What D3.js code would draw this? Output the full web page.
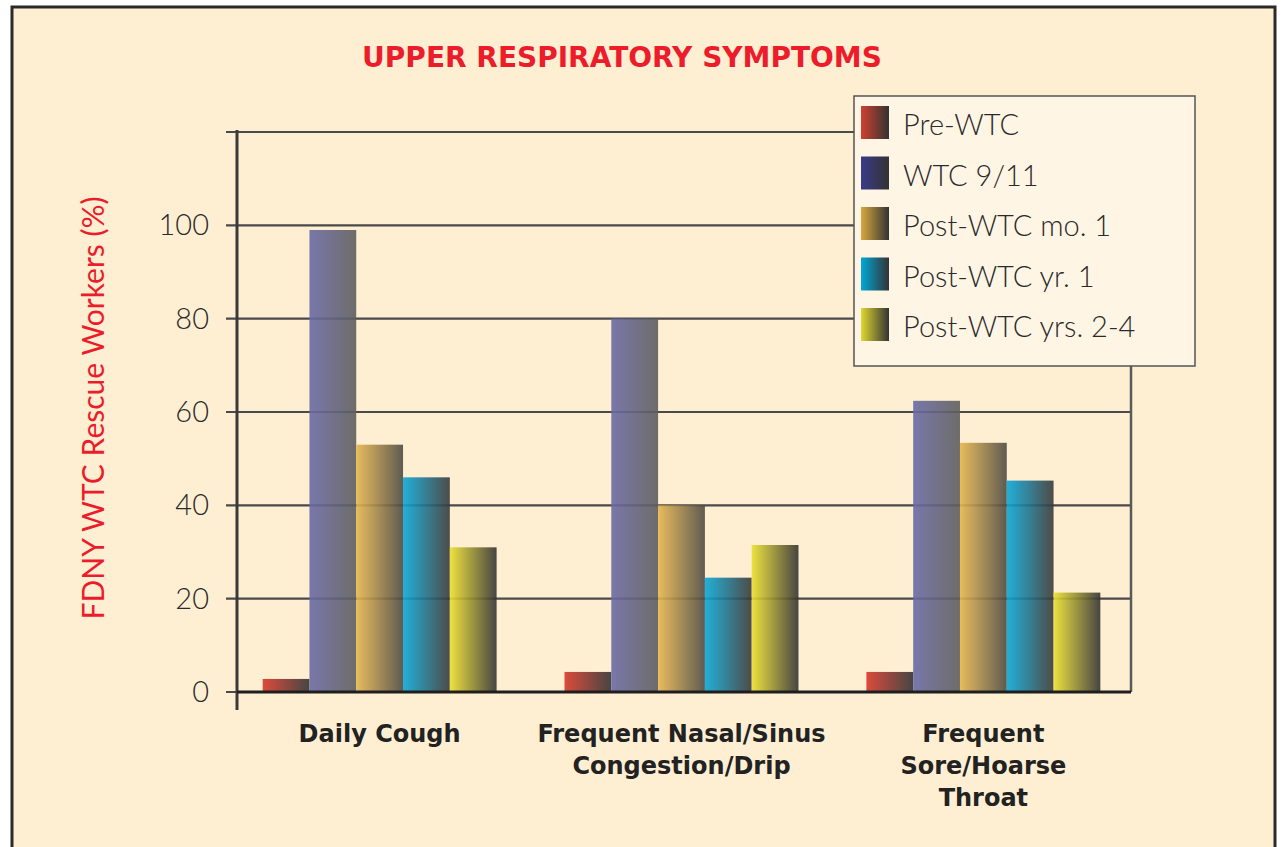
<!DOCTYPE html>
<html>
<head>
<meta charset="utf-8">
<script src="https://cdn.jsdelivr.net/npm/d3@7"></script>
<style>
	body { margin: 0; background: #ffffff; }
	svg { display: block; }
</style>
</head>
<body>
<svg id="chart" width="1282" height="847"></svg>
<script>
var categories = [["Daily Cough"], ["Frequent Nasal/Sinus", "Congestion/Drip"], ["Frequent", "Sore/Hoarse", "Throat"]];
var seriesNames = ["Pre-WTC", "WTC 9/11", "Post-WTC mo. 1", "Post-WTC yr. 1", "Post-WTC yrs. 2-4"];
var preWTC = [2.8, 4.3, 4.3];
var wtc911 = [99, 80, 62.4];
var postMo1 = [53, 40, 53.4];
var postYr1 = [46, 24.5, 45.3];
var postYrs24 = [31, 31.5, 21.3];
var yTicks = [0, 20, 40, 60, 80, 100];
var series = [preWTC, wtc911, postMo1, postYr1, postYrs24];
var barStart = ["#d8392a", "#6a6aa6", "#e6b650", "#0aa8da", "#ece030"];
var barEnd = ["#333333", "#5e5e5e", "#4e4b44", "#3a3a3a", "#333333"];
var legStart = ["#d04030", "#3a3a8a", "#d8a840", "#00a8d8", "#e0d830"];

var svg = d3.select("#chart");
var font = "Futura, 'Century Gothic', Lato, 'Open Sans', sans-serif";
var boldFont = "'DejaVu Sans', Verdana, sans-serif";

// frame
svg.append("rect")
	.attr("x", 12).attr("y", 7)
	.attr("width", 1263).attr("height", 860)
	.attr("fill", "#feefd3")
	.attr("stroke", "#2a2a2a")
	.attr("stroke-width", 3);

var defs = svg.append("defs");
function grad(id, c1, c2) {
	var g = defs.append("linearGradient").attr("id", id)
		.attr("x1", "0%").attr("x2", "100%").attr("y1", "0%").attr("y2", "0%");
	g.append("stop").attr("offset", "0%").attr("stop-color", c1);
	g.append("stop").attr("offset", "100%").attr("stop-color", c2);
}
series.forEach(function(s, i) {
	grad("bar" + i, barStart[i], barEnd[i]);
	grad("leg" + i, legStart[i], "#333333");
});

var plotL = 237, plotR = 1131, plotT = 132, plotB = 692;

var x0 = d3.scaleBand()
	.domain(d3.range(categories.length))
	.range([plotL, plotR - 5])
	.paddingInner(0.225)
	.paddingOuter(0.085);
var x1 = d3.scaleBand()
	.domain(d3.range(series.length))
	.range([0, x0.bandwidth()])
	.padding(0);
var y = d3.scaleLinear().domain([0, 120]).range([plotB, plotT]);

// gridlines
svg.append("g").selectAll("line")
	.data(yTicks.concat([120]))
	.join("line")
	.attr("x1", plotL - 11).attr("x2", plotR)
	.attr("y1", function(d){ return y(d); })
	.attr("y2", function(d){ return y(d); })
	.attr("stroke", "#4a4a4a")
	.attr("stroke-width", 2.2);

// bars
var groups = svg.append("g").selectAll("g")
	.data(categories)
	.join("g")
	.attr("transform", function(d, i){ return "translate(" + x0(i) + ",0)"; });

groups.selectAll("rect")
	.data(function(d, i){ return series.map(function(s, k){ return {k: k, v: s[i]}; }); })
	.join("rect")
	.attr("x", function(d){ return x1(d.k); })
	.attr("width", x1.bandwidth())
	.attr("y", function(d){ return y(d.v); })
	.attr("height", function(d){ return y(0) - y(d.v); })
	.attr("fill", function(d){ return "url(#bar" + d.k + ")"; })
	.attr("fill-opacity", 0.9);

// axis lines
svg.append("line")
	.attr("x1", plotL).attr("x2", plotL)
	.attr("y1", plotT - 2).attr("y2", 710)
	.attr("stroke", "#3a3a3a").attr("stroke-width", 3);
svg.append("line")
	.attr("x1", plotR).attr("x2", plotR)
	.attr("y1", plotT - 2).attr("y2", plotB)
	.attr("stroke", "#5a5a5a").attr("stroke-width", 2.5);
svg.append("line")
	.attr("x1", plotL).attr("x2", plotR)
	.attr("y1", plotB).attr("y2", plotB)
	.attr("stroke", "#1e1e1e").attr("stroke-width", 3);

// y tick labels
svg.append("g").selectAll("text")
	.data(yTicks)
	.join("text")
	.attr("x", 209)
	.attr("y", function(d){ return y(d) + 10; })
	.attr("text-anchor", "end")
	.attr("font-family", font)
	.attr("font-weight", 300)
	.attr("font-size", 29)
	.attr("fill", "#2a2a2a")
	.text(function(d){ return d; });

// category labels
var catText = svg.append("g").selectAll("text")
	.data(categories)
	.join("text")
	.attr("text-anchor", "middle")
	.attr("font-family", boldFont)
	.attr("font-weight", "bold")
	.attr("font-size", 24)
	.attr("fill", "#222222");
catText.selectAll("tspan")
	.data(function(d, i){ return d.map(function(t){ return {t: t, i: i}; }); })
	.join("tspan")
	.attr("x", function(d){ return x0(d.i) + x0.bandwidth() / 2; })
	.attr("y", function(d, j){ return 742 + j * 32; })
	.text(function(d){ return d.t; });

// title
svg.append("text")
	.attr("x", 622).attr("y", 67)
	.attr("text-anchor", "middle")
	.attr("font-family", boldFont)
	.attr("font-weight", "bold")
	.attr("font-size", 28)
	.attr("fill", "#ec1c2a")
	.text("UPPER RESPIRATORY SYMPTOMS");

// y label
svg.append("text")
	.attr("transform", "translate(104,408) rotate(-90)")
	.attr("text-anchor", "middle")
	.attr("font-family", font)
	.attr("font-size", 30)
	.attr("fill", "#ec1c2a")
	.text("FDNY WTC Rescue Workers (%)");

// legend
var legend = svg.append("g");
legend.append("rect")
	.attr("x", 854).attr("y", 96)
	.attr("width", 341).attr("height", 270)
	.attr("fill", "#fff5e5")
	.attr("stroke", "#555555")
	.attr("stroke-width", 1.5);
var items = legend.selectAll("g")
	.data(seriesNames)
	.join("g")
	.attr("transform", function(d, i){ return "translate(861," + (106 + i * 50.5) + ")"; });
items.append("rect")
	.attr("width", 28).attr("height", 33)
	.attr("fill", function(d, i){ return "url(#leg" + i + ")"; });
items.append("text")
	.attr("x", 42).attr("y", 29)
	.attr("font-family", font)
	.attr("font-weight", 300)
	.attr("font-size", 29)
	.attr("fill", "#2a2a2a")
	.text(function(d){ return d; });
</script>
</body>
</html>
